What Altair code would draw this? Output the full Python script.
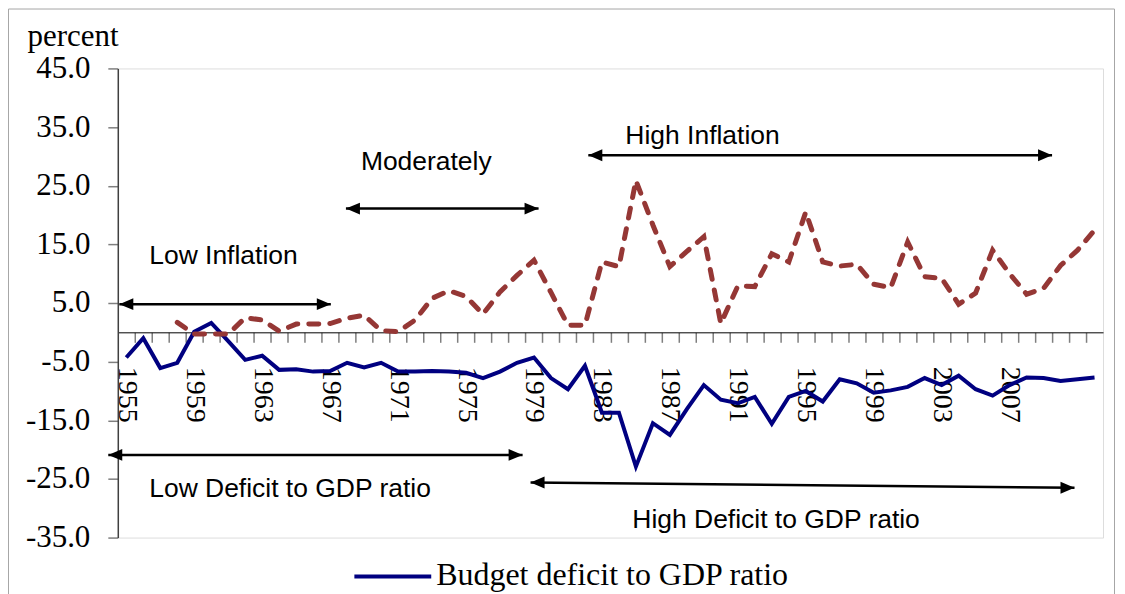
import altair as alt
import pandas as pd

# ---------------- data ----------------
years = list(range(1955, 2013))

inflation = [None, None, None, 1.7, -0.3, -0.3, -0.3, 2.5, 2.1, 0.2,
             1.4, 1.4, 1.5, 2.4, 2.9, 0.3, 0.1, 2.1, 5.8, 7.1,
             6.1, 3.1, 6.9, 9.7, 12.3, 6.8, 1.2, 1.2, 12.0, 11.2,
             25.9, 18.3, 11.2, 13.8, 16.3, 1.5, 7.9, 7.8, 13.4, 12.0,
             20.5, 12.0, 11.3, 11.6, 8.2, 7.6, 15.4, 9.5, 9.2, 4.8,
             6.7, 14.0, 10.0, 6.5, 7.5, 11.4, 14.0, 17.4]

deficit = [-4.3, -1.0, -6.1, -5.2, 0.1, 1.6, -1.5, -4.7, -4.0, -6.4,
           -6.3, -6.7, -6.6, -5.2, -6.0, -5.2, -6.7, -6.7, -6.6, -6.7,
           -6.9, -7.8, -6.7, -5.2, -4.3, -7.8, -9.7, -5.7, -13.7, -13.7,
           -22.9, -15.5, -17.5, -13.1, -9.0, -11.5, -12.1, -11.0, -15.6, -11.0,
           -10.0, -11.8, -8.0, -8.7, -10.3, -9.9, -9.3, -7.8, -9.0, -7.4,
           -9.7, -10.8, -9.0, -7.7, -7.8, -8.3, -8.0, -7.7]

label_years = [1955, 1959, 1963, 1967, 1971, 1975, 1979, 1983, 1987,
               1991, 1995, 1999, 2003, 2007]
y_ticks = [-35, -25, -15, -5, 5, 15, 25, 35, 45]

# annotation arrows (data coordinates)
arrow_x1 = [1954.59, 1967.93, 1982.2, 1953.94, 1978.8]
arrow_x2 = [1967.04, 1979.27, 2009.5, 1978.33, 2010.82]
arrow_y1 = [4.8, 21.1, 30.2, -20.9, -25.6]
arrow_y2 = [4.8, 21.1, 30.2, -20.9, -26.5]

# annotation texts (left edge, baseline)
note_text = ["Low Inflation", "Moderately", "High Inflation",
             "Low Deficit to GDP ratio", "High Deficit to GDP ratio"]
note_x = [1956.35, 1968.81, 1984.38, 1956.35, 1984.79]
note_y = [11.6, 27.6, 32.1, -28.0, -33.3]

legend_label = "Budget deficit to GDP ratio"

# ---------------- build ----------------
df = pd.DataFrame({"year": years, "inflation": inflation, "deficit": deficit})
arrows = pd.DataFrame({"x1": arrow_x1, "x2": arrow_x2, "y1": arrow_y1, "y2": arrow_y2})
notes = pd.DataFrame({"x": note_x, "y": note_y, "label": note_text})

W, H = 987, 470
Y_MIN, Y_MAX = -35, 45
zero_offset = -(H * (0 - Y_MIN) / (Y_MAX - Y_MIN))

x_scale = alt.Scale(domain=[1954.5, 2012.5], nice=False, zero=False)
y_scale = alt.Scale(domain=[Y_MIN, Y_MAX], nice=False, zero=False)

tick_vals = sorted([y + 0.5 for y in range(1955, 2012)] + label_years)

SERIF = "Liberation Serif"
SANS = "Liberation Sans"

x_axis = alt.Axis(
    values=tick_vals,
    labelExpr="datum.value % 1 == 0 ? format(datum.value, 'd') : ''",
    tickColor={"condition": {"test": "datum.value % 1 == 0", "value": "transparent"},
               "value": "#7f7f7f"},
    tickSize=10, tickWidth=1.5,
    labelAngle=90, labelAlign="left", labelBaseline="middle",
    labelPadding=24, labelFont=SERIF, labelFontSize=28, labelColor="black",
    labelOverlap=False, labelFlush=False,
    domainColor="black", domainWidth=1,
    offset=zero_offset, grid=False, title=None,
)

y_axis = alt.Axis(
    values=y_ticks,
    labelExpr="(datum.value < 0 ? '-' : '') + format(abs(datum.value), '.1f')",
    title="percent", titleAngle=0, titleAlign="left", titleBaseline="alphabetic",
    titleX=-91, titleY=-23, titleFont=SERIF, titleFontSize=31,
    titleFontWeight="normal", titleColor="black",
    labelFont=SERIF, labelFontSize=31, labelColor="black", labelPadding=18,
    tickSize=10, tickColor="#7f7f7f", tickWidth=1.5,
    domainColor="#404040", domainWidth=1.5, grid=False,
)


def X(field):
    return alt.X(field, scale=x_scale, axis=x_axis)


def Y(field):
    return alt.Y(field, scale=y_scale, axis=y_axis)


frame = alt.Chart(alt.Data(values=[{}])).mark_rect(
    fillOpacity=0, stroke="#a6a6a6", strokeWidth=1
).encode(
    x=alt.value(-109.5), x2=alt.value(998.5), y=alt.value(-59.5), y2=alt.value(560)
)

deficit_line = alt.Chart(df).mark_line(color="#000080", strokeWidth=4).encode(
    x=X("year:Q"), y=Y("deficit:Q"),
)

inflation_line = alt.Chart(df).mark_line(
    color="#953735", strokeWidth=5, strokeDash=[10, 11], strokeCap="round"
).encode(
    x=X("year:Q"), y=Y("inflation:Q"),
)

shafts = alt.Chart(arrows).mark_rule(color="black", strokeWidth=2.5).encode(
    x=X("x1:Q"), x2="x2:Q", y=Y("y1:Q"), y2="y2:Q",
)

left_heads = alt.Chart(arrows).mark_point(
    shape="M0,0L2,-0.85L2,0.85Z", filled=True, size=196, color="black", opacity=1
).encode(x=X("x1:Q"), y=Y("y1:Q"))

right_heads = alt.Chart(arrows).mark_point(
    shape="M0,0L-2,-0.85L-2,0.85Z", filled=True, size=196, color="black", opacity=1
).encode(x=X("x2:Q"), y=Y("y2:Q"))

note_marks = alt.Chart(notes).mark_text(
    align="left", baseline="alphabetic", font=SANS, fontSize=26.5, color="black"
).encode(x=X("x:Q"), y=Y("y:Q"), text="label:N")

legend_sym = alt.Chart(alt.Data(values=[{}])).mark_rule(
    color="#000080", strokeWidth=4
).encode(x=alt.value(237), x2=alt.value(314), y=alt.value(509))

legend_txt = alt.Chart(alt.Data(values=[{"t": legend_label}])).mark_text(
    align="left", baseline="alphabetic", font=SERIF, fontSize=32, color="black"
).encode(x=alt.value(319), y=alt.value(518), text="t:N")

chart = alt.layer(
    deficit_line, frame, inflation_line, shafts, left_heads, right_heads,
    note_marks, legend_sym, legend_txt
).properties(
    width=W, height=H,
    autosize=alt.AutoSizeParams(type="none"),
    padding={"left": 110, "top": 60, "right": 14, "bottom": 60},
).configure_view(
    stroke="#808080", strokeWidth=2
).configure(background="white")

chart.save("out.html", embed_options={"renderer": "svg", "actions": False})
